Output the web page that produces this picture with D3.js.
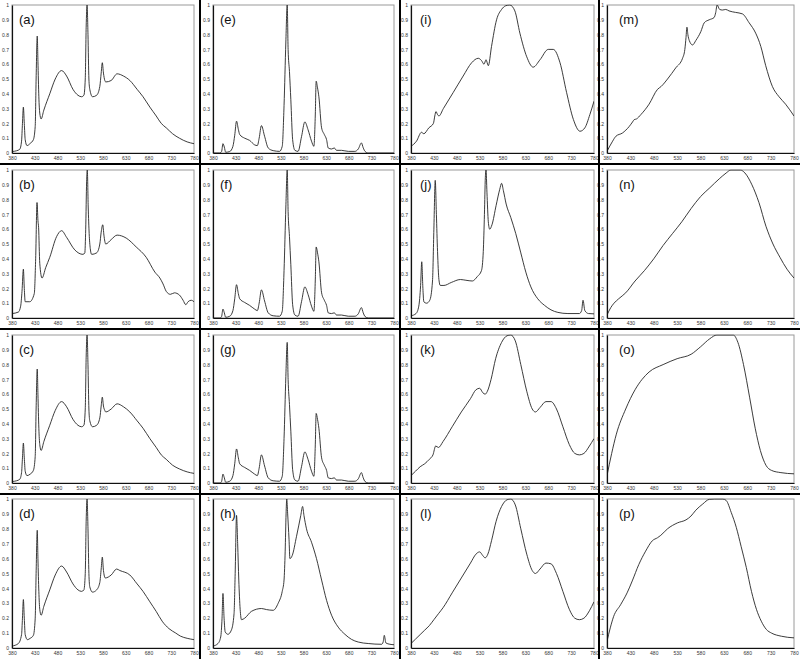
<!DOCTYPE html>
<html><head><meta charset="utf-8">
<script src="https://cdn.jsdelivr.net/npm/d3@7"></script>
<style>body{margin:0;background:#fff} svg{display:block}</style>
</head><body>
<svg id="chart" width="800" height="659"></svg>
<script>
// ---------- DATA ----------
const panelLabels = ["(a)","(b)","(c)","(d)","(e)","(f)","(g)","(h)","(i)","(j)","(k)","(l)","(m)","(n)","(o)","(p)"];
const xTicks = [380,430,480,530,580,630,680,730,780];
const yTicks = [0,0.1,0.2,0.3,0.4,0.5,0.6,0.7,0.8,0.9,1];

const specA = [[380,0.01],[390,0.015],[397,0.025],[401,0.08],[403,0.2],[405,0.31],[407,0.2],[409,0.09],[413,0.05],[420,0.065],[427,0.09],[431,0.18],[433,0.5],[435.5,0.79],[437,0.62],[439,0.38],[441,0.27],[444,0.23],[450,0.29],[463,0.40],[475,0.50],[489,0.557],[500,0.52],[514,0.43],[525,0.39],[533,0.38],[538,0.39],[541,0.5],[543,0.85],[545,1.0],[547,0.8],[549,0.5],[551,0.43],[557,0.38],[566,0.39],[573,0.45],[576,0.54],[578.5,0.61],[581,0.54],[584,0.49],[586,0.48],[598,0.49],[611,0.535],[625,0.52],[639,0.49],[655,0.43],[668,0.38],[683,0.31],[697,0.25],[708,0.2],[719,0.17],[733,0.13],[748,0.10],[765,0.075],[780,0.063]];
const specB = [[380,0.03],[394,0.04],[399,0.08],[402,0.18],[405,0.33],[407,0.2],[409,0.11],[419,0.11],[429,0.165],[432,0.4],[435,0.78],[437,0.66],[438.5,0.61],[441,0.37],[446,0.27],[454,0.34],[463,0.41],[478,0.55],[489,0.59],[500,0.545],[518,0.46],[536,0.43],[540,0.44],[542,0.6],[544,0.92],[545.5,1.0],[547.5,0.75],[549.6,0.57],[552,0.47],[555,0.43],[566,0.44],[573,0.50],[576,0.58],[579.5,0.63],[582,0.56],[586,0.50],[598,0.53],[611,0.56],[631,0.54],[653,0.48],[675,0.41],[694,0.31],[705,0.27],[712,0.23],[719,0.18],[728,0.16],[737,0.17],[748,0.155],[756,0.12],[762,0.09],[767,0.11],[774,0.12],[780,0.11]];
const specC = [[380,0.01],[390,0.015],[397,0.025],[401,0.07],[403,0.17],[405,0.27],[407,0.17],[409,0.08],[413,0.05],[420,0.06],[427,0.085],[431,0.18],[433,0.5],[435.5,0.77],[437,0.6],[439,0.37],[441,0.26],[444,0.22],[450,0.28],[463,0.39],[475,0.49],[489,0.55],[500,0.515],[514,0.43],[525,0.39],[533,0.38],[538,0.39],[541,0.5],[543,0.85],[545,1.0],[547,0.8],[549,0.5],[551,0.42],[557,0.38],[566,0.39],[573,0.44],[576,0.52],[578.5,0.58],[581,0.52],[584,0.49],[586,0.48],[598,0.5],[611,0.535],[625,0.515],[639,0.48],[655,0.42],[668,0.37],[683,0.3],[697,0.24],[708,0.19],[719,0.16],[733,0.12],[748,0.095],[765,0.075],[780,0.065]];
const specD = [[380,0.013],[394,0.03],[401,0.09],[403,0.2],[405,0.325],[407,0.2],[409,0.09],[414,0.056],[420,0.065],[427,0.085],[431,0.2],[433,0.5],[435.5,0.79],[437,0.6],[439,0.38],[441,0.26],[444,0.22],[450,0.28],[463,0.39],[475,0.49],[489,0.55],[500,0.51],[514,0.43],[525,0.39],[533,0.38],[538,0.39],[541,0.5],[543,0.85],[545,1.0],[547,0.8],[549,0.5],[551,0.41],[557,0.375],[566,0.39],[573,0.44],[576,0.53],[578.5,0.61],[581,0.52],[585,0.47],[598,0.49],[610,0.53],[617,0.52],[639,0.49],[655,0.43],[668,0.38],[683,0.31],[697,0.245],[710,0.18],[725,0.13],[740,0.1],[750,0.08],[765,0.065],[780,0.056]];
const specE = [[380,0],[395,0],[399,0.01],[402,0.063],[405,0.04],[408,0.005],[417,0.01],[424,0.045],[428,0.12],[432,0.215],[436,0.16],[439,0.125],[450,0.10],[461,0.085],[472,0.055],[478,0.05],[482,0.1],[487,0.185],[494,0.113],[502,0.034],[513,0.016],[527,0.011],[533,0.045],[537,0.32],[541,0.75],[544,1.0],[546,0.7],[549,0.55],[552,0.36],[556,0.09],[561,0.018],[568,0.011],[575.6,0.11],[583,0.21],[590,0.158],[597.7,0.08],[603,0.045],[606,0.25],[608,0.485],[611,0.44],[614,0.38],[620,0.17],[626,0.125],[631,0.09],[634.6,0.034],[642,0.027],[648,0.034],[653,0.018],[664,0.018],[679,0.011],[693.6,0.011],[701,0.027],[708,0.068],[712,0.035],[716,0.011],[723,0],[780,0]];
const specF = [[380,0],[396,0],[399,0.01],[402,0.06],[405,0.035],[408,0.005],[417,0.012],[424,0.05],[428,0.13],[432,0.225],[436,0.165],[439,0.13],[450,0.105],[461,0.085],[472,0.06],[478,0.05],[482,0.1],[487,0.19],[494,0.115],[502,0.035],[513,0.015],[527,0.012],[533,0.045],[537,0.32],[541,0.75],[544,1.0],[546,0.72],[549,0.55],[552,0.36],[556,0.09],[561,0.02],[568,0.012],[575.6,0.11],[583,0.21],[590,0.16],[597.7,0.08],[603,0.045],[606,0.25],[608,0.48],[611,0.44],[614,0.38],[620,0.17],[626,0.12],[631,0.085],[634.6,0.035],[642,0.03],[648,0.035],[653,0.02],[664,0.02],[679,0.012],[693.6,0.012],[701,0.028],[708,0.07],[712,0.035],[716,0.01],[723,0],[780,0]];
const specG = [[380,0],[396,0],[399,0.01],[402,0.06],[405,0.035],[408,0.005],[417,0.012],[424,0.05],[428,0.13],[432,0.23],[436,0.17],[439,0.13],[450,0.105],[461,0.085],[472,0.06],[478,0.05],[482,0.1],[487,0.19],[494,0.115],[502,0.035],[513,0.015],[527,0.012],[533,0.045],[537,0.3],[541,0.72],[544,0.95],[546,0.7],[549,0.53],[552,0.35],[556,0.09],[561,0.02],[568,0.012],[575.6,0.11],[583,0.21],[590,0.16],[597.7,0.08],[603,0.045],[606,0.25],[608,0.47],[611,0.43],[614,0.37],[620,0.17],[626,0.12],[631,0.085],[634.6,0.035],[642,0.03],[648,0.035],[653,0.02],[664,0.02],[679,0.012],[693.6,0.012],[701,0.028],[708,0.07],[712,0.035],[716,0.01],[723,0],[780,0]];
const specH = [[380,0.013],[391,0.03],[397,0.074],[400,0.2],[402,0.366],[404.5,0.2],[407,0.108],[413,0.092],[420.6,0.12],[426.5,0.23],[429,0.5],[432,0.89],[434.5,0.7],[437,0.456],[440,0.26],[443,0.19],[450,0.20],[465,0.246],[487,0.265],[498,0.258],[513,0.253],[524,0.30],[533,0.38],[537,0.456],[539.5,0.65],[541.5,0.9],[543,1.0],[545,0.9],[548,0.73],[550,0.60],[555,0.62],[564.6,0.75],[574,0.89],[578,0.95],[581,0.89],[586.6,0.80],[597.7,0.71],[608.7,0.60],[620,0.456],[631,0.32],[642,0.22],[656.7,0.14],[671.5,0.092],[686,0.058],[701,0.04],[723,0.03],[752.7,0.025],[756,0.04],[758.6,0.085],[762,0.034],[771,0.025],[780,0.022]];
const specI = [[380,0.045],[392,0.08],[403,0.14],[408,0.13],[419,0.17],[429,0.20],[432,0.25],[434.5,0.28],[438,0.26],[441,0.25],[450.7,0.30],[472.5,0.41],[494,0.52],[512.6,0.61],[527,0.64],[534,0.625],[539.6,0.60],[544,0.63],[549,0.59],[556,0.72],[567,0.90],[578,0.97],[587,0.995],[596,1.0],[607,0.96],[618,0.81],[633,0.65],[647,0.58],[662,0.63],[680,0.70],[691,0.70],[705.7,0.61],[720,0.41],[735,0.226],[749.4,0.147],[760,0.17],[771,0.26],[780,0.35]];
const specJ = [[380,0.015],[391,0.03],[397,0.08],[401,0.22],[403.5,0.38],[406,0.2],[408,0.11],[414,0.1],[421,0.12],[427,0.25],[430,0.6],[433,0.93],[435.5,0.7],[438,0.45],[441,0.26],[444,0.22],[452,0.22],[468,0.24],[488,0.26],[500,0.255],[514,0.25],[525,0.28],[534,0.32],[538,0.45],[540.5,0.7],[542.5,0.95],[544,1.0],[546,0.85],[549,0.65],[552,0.6],[557,0.63],[566,0.76],[574,0.87],[578,0.91],[582,0.86],[588,0.77],[598,0.68],[609,0.57],[620,0.44],[631,0.31],[642,0.21],[657,0.13],[672,0.085],[686,0.055],[701,0.038],[723,0.03],[748,0.03],[753,0.05],[756,0.12],[760,0.05],[768,0.03],[780,0.028]];
const specK = [[380,0.05],[390,0.08],[400,0.11],[410,0.13],[420,0.16],[428,0.19],[434,0.25],[440,0.24],[450,0.28],[470,0.38],[490,0.48],[510,0.57],[522,0.63],[530,0.64],[537,0.61],[542,0.6],[547,0.62],[555,0.7],[565,0.84],[578,0.95],[590,0.995],[598,1.0],[608,0.96],[620,0.8],[633,0.62],[645,0.5],[652,0.48],[662,0.51],[675,0.55],[686,0.55],[698,0.5],[712,0.38],[726,0.26],[738,0.2],[748,0.19],[758,0.2],[770,0.25],[780,0.3]];
const specL = [[380,0.03],[390,0.06],[400,0.09],[410,0.12],[420,0.15],[430,0.19],[440,0.23],[450,0.27],[470,0.37],[490,0.47],[510,0.57],[522,0.63],[530,0.645],[537,0.62],[542,0.605],[548,0.63],[556,0.72],[566,0.85],[578,0.95],[590,0.995],[598,1.0],[608,0.96],[620,0.8],[633,0.63],[645,0.52],[652,0.5],[662,0.53],[675,0.57],[686,0.565],[698,0.5],[712,0.38],[726,0.26],[738,0.2],[748,0.19],[758,0.2],[770,0.25],[780,0.31]];
const specM = [[380,0.011],[392,0.08],[399,0.113],[413,0.135],[427.7,0.18],[434.7,0.21],[438,0.225],[443,0.23],[452.6,0.26],[470,0.33],[488,0.43],[496,0.45],[509.5,0.50],[527,0.575],[541.6,0.64],[546.5,0.70],[549,0.78],[551,0.85],[553,0.8],[556,0.76],[563,0.73],[570,0.76],[580.7,0.82],[588,0.88],[598.5,0.90],[609,0.915],[612.6,0.95],[615.5,1.0],[621,0.97],[627,0.966],[634,0.97],[641,0.96],[655,0.95],[669.7,0.94],[684,0.88],[698,0.81],[709,0.72],[719.5,0.59],[733.7,0.45],[748,0.38],[762,0.33],[780,0.25]];
const specN = [[380,0.02],[388,0.07],[395,0.1],[405,0.13],[420,0.17],[440,0.25],[460,0.32],[480,0.4],[500,0.49],[520,0.57],[540,0.65],[560,0.74],[580,0.82],[600,0.88],[620,0.94],[635,0.98],[645,1.0],[665,1.0],[675,0.98],[690,0.9],[705,0.78],[720,0.62],[735,0.5],[750,0.41],[765,0.33],[780,0.27]];
const specO = [[380,0.05],[390,0.2],[400,0.33],[420,0.5],[440,0.63],[455,0.70],[470,0.75],[500,0.8],[530,0.84],[560,0.87],[580,0.92],[600,0.975],[615,1.0],[650,1.0],[660,0.95],[672,0.8],[685,0.58],[697,0.37],[708,0.22],[720,0.12],[732,0.085],[752,0.07],[780,0.062]];
const specP = [[380,0.045],[387,0.135],[394,0.21],[409,0.29],[423,0.37],[434,0.45],[448,0.56],[462.6,0.65],[477,0.72],[488,0.74],[495,0.756],[509.5,0.80],[531,0.84],[549,0.86],[559.5,0.885],[570,0.925],[584.7,0.966],[599,0.998],[610,1.0],[627.7,1.0],[635,0.99],[645.7,0.91],[656.5,0.81],[667,0.68],[678,0.54],[689,0.38],[699.6,0.26],[710,0.18],[721,0.124],[732,0.10],[753,0.079],[780,0.068]];

const panelData = [specA,specB,specC,specD,specE,specF,specG,specH,specI,specJ,specK,specL,specM,specN,specO,specP];

// ---------- LAYOUT ----------
const svg = d3.select("#chart");
const colL = [12, 213, 411, 607], colR = [194, 394, 594, 794];
const labOff = [7, 7, 9, 12];
const rowT = [5, 170, 335, 499], rowB = [153, 318, 483, 648];
const fmtY = d => d === 0 ? "0" : d === 1 ? "1" : d3.format(".1f")(d);

panelData.forEach((data, i) => {
  const col = Math.floor(i / 4), row = i % 4;
  const x = d3.scaleLinear().domain([380, 780]).range([colL[col], colR[col]]);
  const y = d3.scaleLinear().domain([0, 1]).range([rowB[row], rowT[row]]);
  const g = svg.append("g");

  g.append("rect").attr("x", x(380)).attr("y", y(1))
    .attr("width", x(780) - x(380)).attr("height", y(0) - y(1))
    .attr("fill", "#fff").attr("stroke", "#9a9a9a").attr("stroke-width", 1);

  const clipId = "clip" + i;
  g.append("clipPath").attr("id", clipId).append("rect")
    .attr("x", x(380)).attr("y", y(1) - 0.5)
    .attr("width", x(780) - x(380)).attr("height", y(0) - y(1) + 0.5);

  const line = d3.line().x(d => x(d[0])).y(d => y(d[1])).curve(d3.curveMonotoneX);
  g.append("path").datum(data).attr("d", line)
    .attr("fill", "none").attr("stroke", "#262626").attr("stroke-width", 0.9)
    .attr("clip-path", `url(#${clipId})`);

  const ax = g.append("g").attr("transform", `translate(0,${y(0)})`)
    .call(d3.axisBottom(x).tickValues(xTicks).tickSize(0).tickPadding(3).tickFormat(d3.format("d")));
  const ay = g.append("g").attr("transform", `translate(${x(380)},0)`)
    .call(d3.axisLeft(y).tickValues(yTicks).tickSize(0).tickPadding(3).tickFormat(fmtY));
  [ax, ay].forEach(a => {
    a.select(".domain").attr("stroke", "#111").attr("stroke-width", 1.2);
    a.selectAll("text").attr("font-family", "Liberation Sans, Arial, sans-serif")
      .attr("font-size", 5).attr("fill", "#333");
  });

  g.append("text").attr("x", x(380) + labOff[col]).attr("y", y(1) + 19)
    .attr("font-family", "Liberation Sans, Arial, sans-serif").attr("font-size", 13)
    .attr("fill", "#111").text(panelLabels[i]);
});

// panel separators
[200, 400, 599].forEach(v => svg.append("line").attr("x1", v).attr("x2", v).attr("y1", 0).attr("y2", 659)
  .attr("stroke", "#000").attr("stroke-width", 2));
[164, 329, 494].forEach(v => svg.append("line").attr("x1", 0).attr("x2", 800).attr("y1", v).attr("y2", v)
  .attr("stroke", "#000").attr("stroke-width", 2));
</script>
</body></html>
